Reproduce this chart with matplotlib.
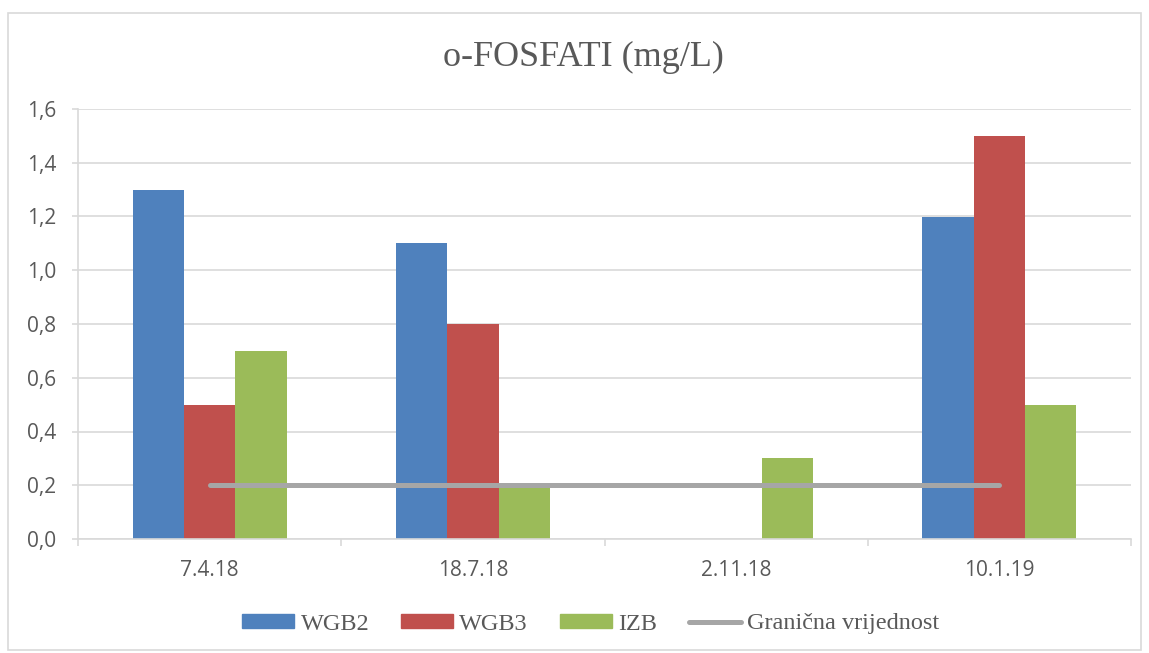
import matplotlib
matplotlib.use("Agg")
import matplotlib.pyplot as plt
import numpy as np
from matplotlib.patches import Rectangle
from matplotlib.lines import Line2D
from matplotlib.ticker import FuncFormatter

categories = ["7.4.18", "18.7.18", "2.11.18", "10.1.19"]
wgb2 = [1.3, 1.1, 0.0, 1.2]
wgb3 = [0.5, 0.8, 0.0, 1.5]
izb = [0.7, 0.2, 0.3, 0.5]
limit = [0.2, 0.2, 0.2, 0.2]
series_names = ["WGB2", "WGB3", "IZB", "Granična vrijednost"]
colors = ["#4F81BD", "#C0504D", "#9BBB59"]
line_color = "#A6A6A6"

fig = plt.figure(figsize=(11.49, 6.53), dpi=100)
fig.patches.append(Rectangle((8/1149, 1-650/653), 1133/1149, 637/653, transform=fig.transFigure,
                             fill=False, edgecolor="#D9D9D9", linewidth=1.2))
ax = fig.add_axes([78/1149, 1-539/653, (1131-78)/1149, (539-109)/653])

x = np.arange(len(categories))
w = 0.195
for i, (vals, c) in enumerate(zip([wgb2, wgb3, izb], colors)):
    ax.bar(x + (i - 1) * w, vals, width=w, color=c, label=series_names[i], zorder=2)
ax.plot(x, limit, color=line_color, linewidth=3.6, solid_capstyle="round", zorder=3, label=series_names[3])

ax.set_xlim(-0.5, len(categories) - 0.5)
ax.set_ylim(0, 1.6)
ax.set_yticks(np.arange(0, 1.61, 0.2))
ax.yaxis.set_major_formatter(FuncFormatter(lambda v, p: f"{v:.1f}".replace(".", ",")))
ax.set_xticks(x)
ax.set_xticklabels(categories)
ax.set_xticks(np.arange(-0.5, len(categories), 1), minor=True)
ax.grid(axis="y", color="#D9D9D9", linewidth=1.2, zorder=0)
for s in ["top", "right"]:
    ax.spines[s].set_visible(False)
for s in ["left", "bottom"]:
    ax.spines[s].set_color("#D9D9D9")
    ax.spines[s].set_linewidth(1.2)
ax.tick_params(axis="y", length=4.3, color="#D9D9D9", width=1.2, labelsize=15, labelcolor="#595959", pad=11.5)
ax.tick_params(axis="x", which="major", length=0, labelsize=15, labelcolor="#595959", pad=15)
ax.tick_params(axis="x", which="minor", length=5, color="#D9D9D9", width=1.2)
for lab in ax.get_xticklabels() + ax.get_yticklabels():
    lab.set_fontfamily("Open Sans")

fig.text(583.5/1149, 1-57/653, "o-FOSFATI (mg/L)", ha="center", va="center",
         fontsize=26, family="Liberation Serif", color="#595959")

handles = [Rectangle((0, 0), 1, 1, color=c) for c in colors] + \
          [Line2D([0], [0], color=line_color, linewidth=3.6, solid_capstyle="round")]
leg = fig.legend(handles, series_names, loc="center", bbox_to_anchor=(591/1149, 1-624/653),
                 ncol=4, frameon=False, prop={"family": "Liberation Serif", "size": 17.5},
                 handlelength=2.14, handleheight=0.55, handletextpad=0.25, columnspacing=1.32,
                 labelcolor="#595959", borderaxespad=0, borderpad=0)

fig.savefig("out.png", dpi=100)
